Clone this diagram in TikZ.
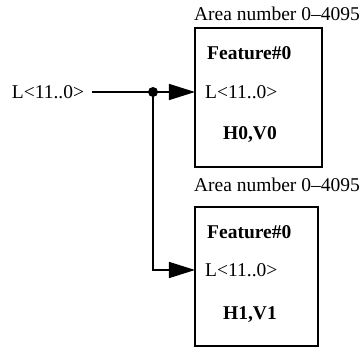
\documentclass[tikz,border=0pt]{standalone}
\usepackage{fontspec}
\setmainfont{Liberation Serif}
\usetikzlibrary{arrows.meta}
\begin{document}
\begin{tikzpicture}[x=1pt,y=-1pt,
  box/.style={draw,line width=1.4pt},
  txt/.style={inner sep=0pt,font=\fontsize{19.5}{22}\selectfont},
  btxt/.style={inner sep=0pt,font=\fontsize{19.5}{22}\selectfont\bfseries},
  conn/.style={line width=1.4pt},
  arr/.style={conn,-{Triangle[length=26pt,width=16pt]}},
  dotnode/.style={circle,fill,inner sep=0pt,minimum size=10pt}]
\useasboundingbox (0,0) rectangle (360,347);
% boxes
\draw[box] (195,28) coordinate (b1nw) rectangle (322,167);
\draw[box] (195,207) coordinate (b2nw) rectangle (318,346);
\node[txt] (t1) at (277,14) {Area number 0--4095};
\node[txt] (t2) at (277,185) {Area number 0--4095};
% box contents
\node[btxt,anchor=west] (f1) at (207,53) {Feature\#0};
\node[txt,anchor=west] (l1) at (205,92) {L<11..0>};
\node[btxt] (h1) at (250,135) {H0,V0};
\node[btxt,anchor=west] (f2) at (207,232) {Feature\#0};
\node[txt,anchor=west] (l2) at (205,270) {L<11..0>};
\node[btxt] (h2) at (250,315) {H1,V1};
% input
\node[txt] (in) at (48,92) {L<11..0>};
\coordinate (s) at (92,92);
\coordinate (e1) at (195,92);
\coordinate (e2) at (195,270);
\node[dotnode] (d) at (153,92) {};
\draw[conn] (s) -- (d.center);
\draw[arr] (d.center) -- (e1);
\draw[arr] (d.center) |- (e2);
\end{tikzpicture}
\end{document}
